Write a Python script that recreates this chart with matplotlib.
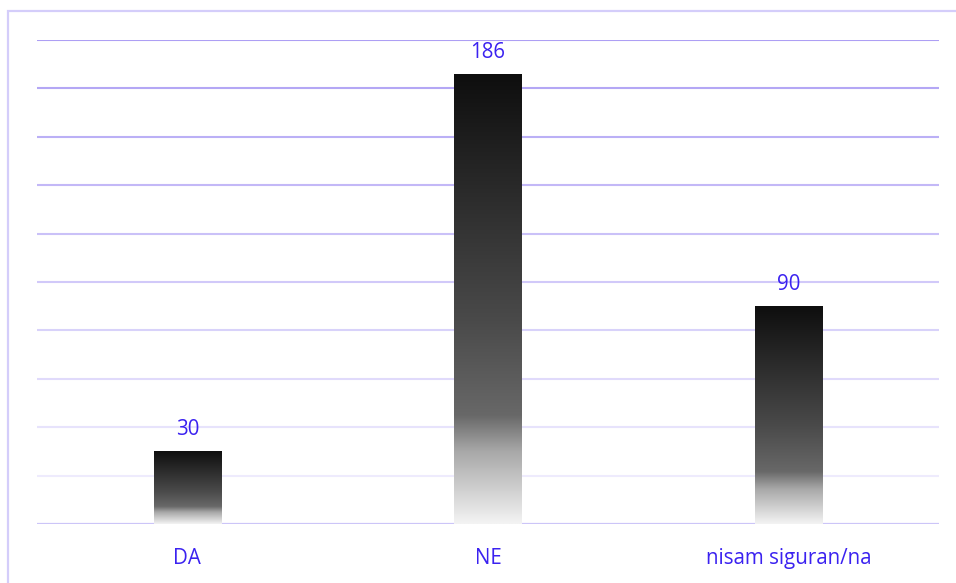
import numpy as np
import matplotlib
matplotlib.use("Agg")
import matplotlib.pyplot as plt
from matplotlib.colors import LinearSegmentedColormap, to_rgb
from matplotlib.patches import Rectangle

categories = ["DA", "NE", "nisam siguran/na"]
values = [30, 186, 90]
y_max = 200
y_step = 20

W, H, DPI = 956, 583, 100
fig = plt.figure(figsize=(W / DPI, H / DPI), dpi=DPI)
fig.patch.set_facecolor("white")

# outer border (top and left only visible)
fig.add_artist(Rectangle((7.5 / W, -0.1), 1.2, 1 - 10.5 / H + 0.1,
                         transform=fig.transFigure, fill=False,
                         edgecolor="#d4cdfa", linewidth=1.6))

ax = fig.add_axes([37 / W, 1 - 524 / H, (939 - 37) / W, (524 - 40) / H])
ax.set_xlim(-0.5, len(categories) - 0.5)
ax.set_ylim(0, y_max)
for s in ax.spines.values():
    s.set_visible(False)
ax.set_yticks([])
ax.tick_params(axis="x", length=0, pad=17, labelsize=14.8, labelcolor="#3b22f0")
ax.set_xticks(range(len(categories)))
ax.set_xticklabels(categories, fontfamily="Open Sans")

# gridlines fading from darker (top) to lighter (bottom)
top_c = np.array(to_rgb("#ad9ff4"))
bot_c = np.array(to_rgb("#eeebfd"))
levels = np.arange(y_step, y_max + 1, y_step)
for lv in levels:
    t = (y_max - lv) / (y_max - y_step)
    c = top_c * (1 - t) + bot_c * t
    ax.axhline(lv, color=c, linewidth=1.5, zorder=1)
ax.axhline(0, color="#ccc5f8", linewidth=1.6, zorder=1)

bars = ax.bar(range(len(categories)), values, width=0.223, color="none",
              edgecolor="none", zorder=2)

cmap = LinearSegmentedColormap.from_list("g", [
    (0.0, "#0e0e0e"), (0.55, "#4a4a4a"), (0.76, "#686868"),
    (0.84, "#a8a8a8"), (1.0, "#f3f3f3")])
grad = np.linspace(0, 1, 256).reshape(-1, 1)
for b in bars:
    x0, y0 = b.get_x(), b.get_y()
    w, h = b.get_width(), b.get_height()
    im = ax.imshow(grad, cmap=cmap, aspect="auto",
                   extent=(x0, x0 + w, y0, y0 + h), origin="upper",
                   zorder=3, interpolation="bilinear")
    im.set_clip_path(b)

for i, v in enumerate(values):
    ax.annotate(str(v), (i, v), xytext=(0, 11.5), textcoords="offset points",
                ha="center", va="baseline", fontsize=14.8, color="#3b22f0",
                fontfamily="Open Sans", zorder=4)

ax.set_xlim(-0.5, len(categories) - 0.5)
ax.set_ylim(0, y_max)
fig.savefig("out.png", dpi=DPI)
